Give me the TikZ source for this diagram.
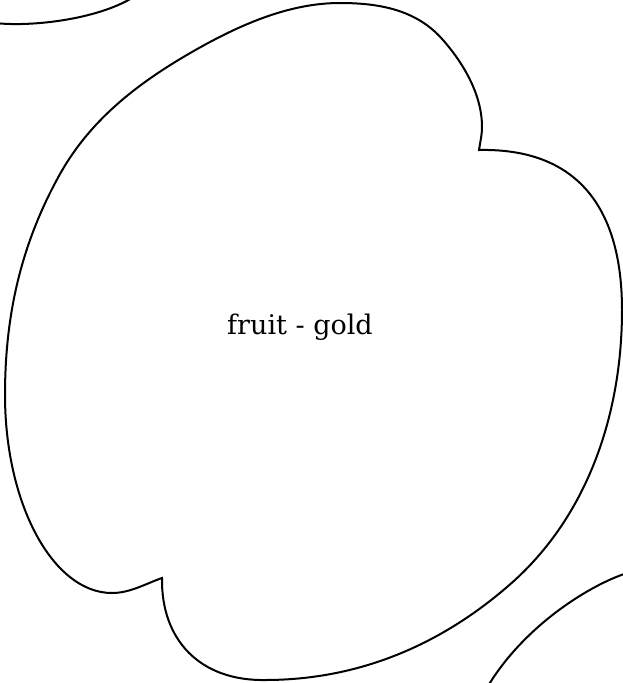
\documentclass[tikz,border=0pt]{standalone}
\usepackage{fontspec}
\setmainfont{DejaVu Serif}
\usepackage{tikz}
\usetikzlibrary{positioning}

\begin{document}
\begin{tikzpicture}[x=1pt,y=-1pt]

\tikzset{
  cloudline/.style={draw=black, line width=2pt, line join=miter},
  cloudlabel/.style={font=\fontsize{27}{32}\selectfont, anchor=base}
}

% Frame
\useasboundingbox (0,0) rectangle (623,683);

% Neighbouring clouds (cut off at the corners)
\draw[cloudline] (-5,23) .. controls (30,27) and (95,20) .. (132,-2);
\draw[cloudline] (627,573) .. controls (590,585) and (525,625) .. (488,686);

% Main cloud
\draw[cloudline] (162,578)
  .. controls (145,584) and (130,593) .. (112,593)
  .. controls (53,593) and (5,504) .. (5,395)
  .. controls (5,315) and (21,244) .. (60,174)
  .. controls (92,117) and (142,80) .. (199,48)
  .. controls (242,24) and (290,3) .. (340,3)
  .. controls (380,3) and (417,10) .. (443,40)
  .. controls (464,64) and (482,95) .. (482,127)
  .. controls (482,135) and (480,143) .. (479,150)
  .. controls (575,148) and (622,205) .. (622,310)
  .. controls (622,415) and (587,519) .. (507,587)
  .. controls (435,649) and (353,680) .. (265,680)
  .. controls (200,681) and (161,640) .. cycle;

% Label
\node[cloudlabel] (fruit) at (300,334) {fruit - gold};

\end{tikzpicture}
\end{document}
